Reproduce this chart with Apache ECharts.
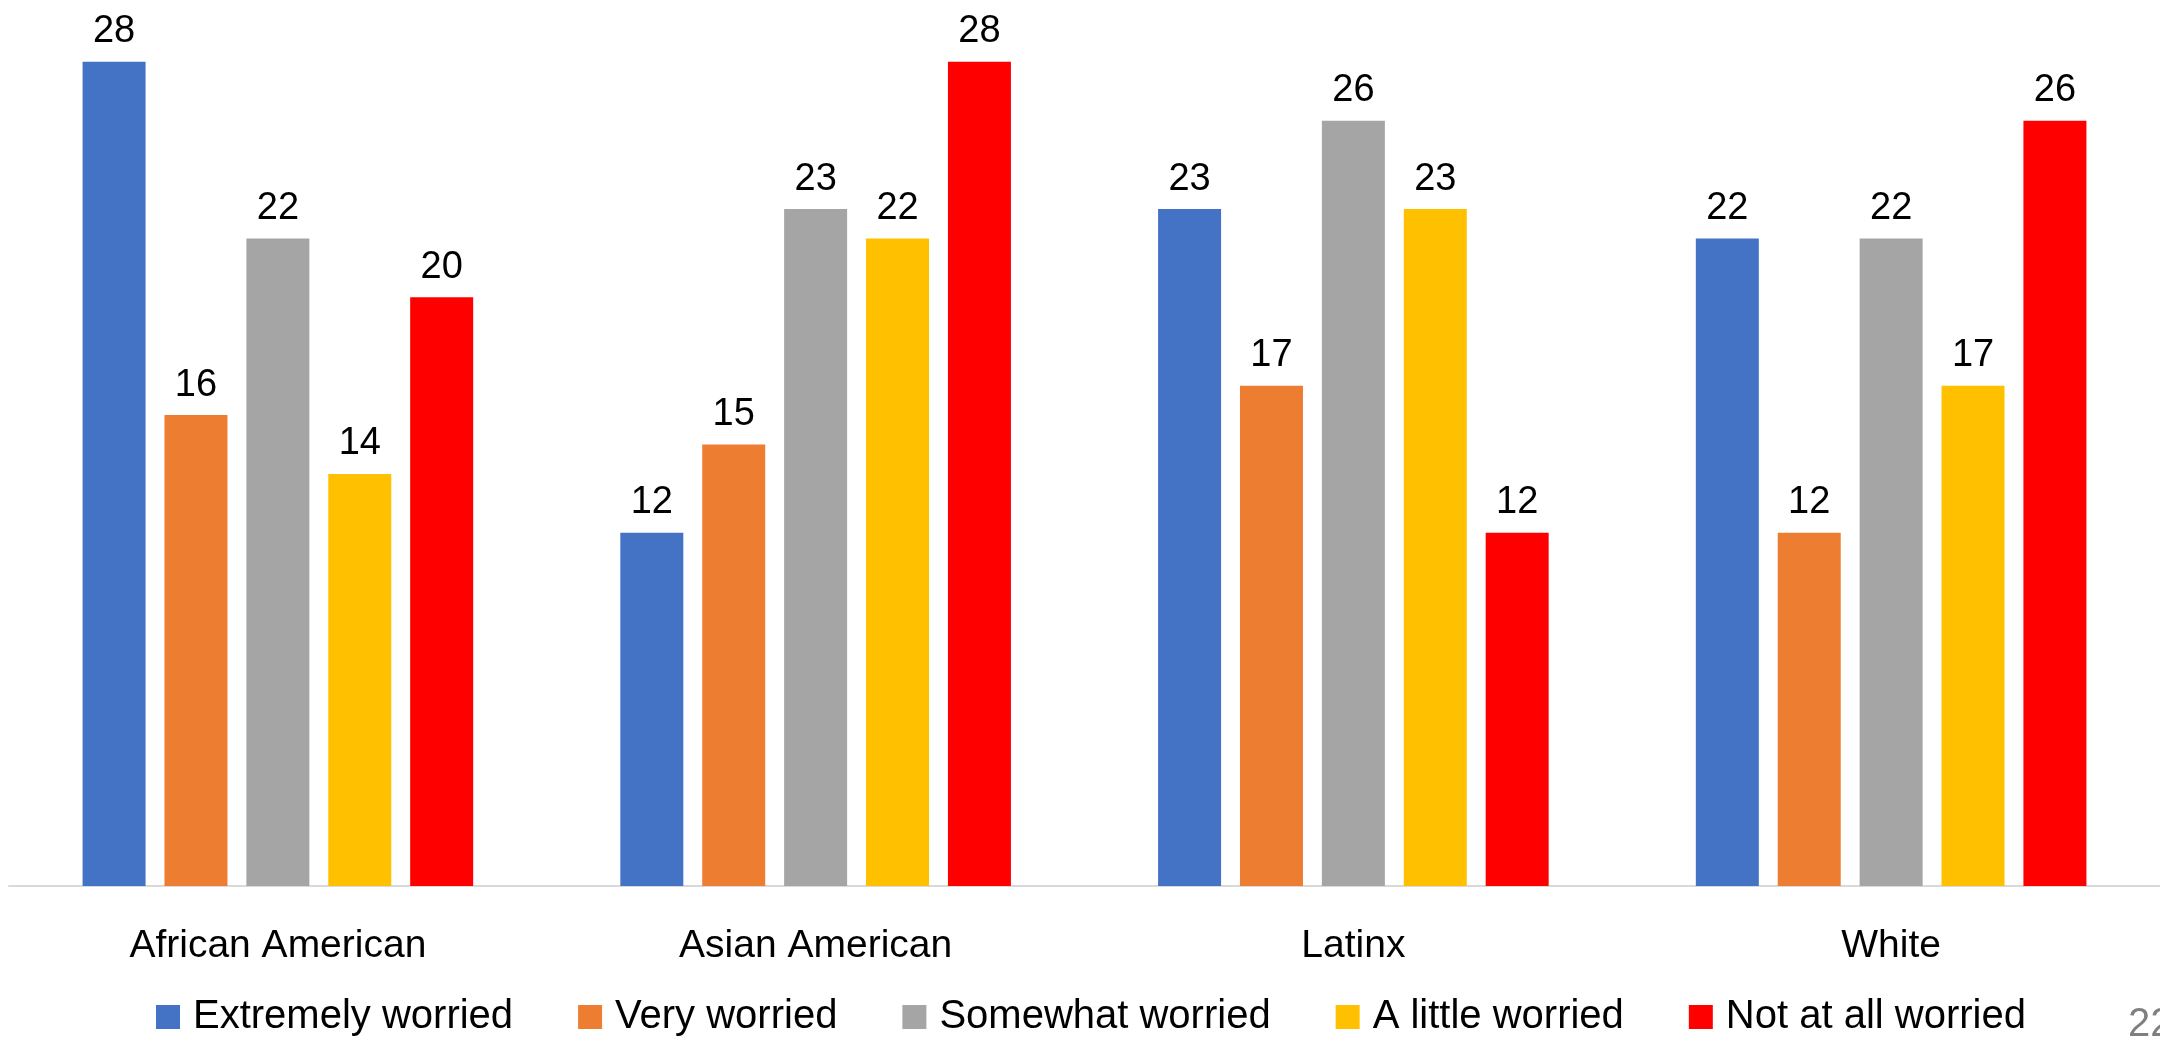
<!DOCTYPE html>
<html>
<head>
<meta charset="utf-8">
<script src="https://cdn.jsdelivr.net/npm/echarts@6/dist/echarts.min.js"></script>
<style>
html,body{margin:0;padding:0;background:#fff;}
#chart{width:2160px;height:1038px;}
</style>
</head>
<body>
<div id="chart"></div>
<script>
const categories = ['African American', 'Asian American', 'Latinx', 'White'];
const seriesNames = ['Extremely worried', 'Very worried', 'Somewhat worried', 'A little worried', 'Not at all worried'];
const extremelyWorried = [28, 12, 23, 22];
const veryWorried = [16, 15, 17, 12];
const somewhatWorried = [22, 23, 26, 22];
const aLittleWorried = [14, 22, 23, 17];
const notAtAllWorried = [20, 28, 12, 26];
const seriesValues = [extremelyWorried, veryWorried, somewhatWorried, aLittleWorried, notAtAllWorried];
const colors = ['#4472C4', '#ED7D31', '#A5A5A5', '#FFC000', '#FF0000'];
const pageNumber = '22';

const FONT = '"Liberation Sans", Arial, sans-serif';
const chart = echarts.init(document.getElementById('chart'), null, {renderer: 'canvas'});
chart.setOption({
  animation: false,
  color: colors,
  grid: {left: 9, right: 0, top: 3, bottom: 152, containLabel: false},
  xAxis: {
    type: 'category',
    data: categories,
    axisLine: {lineStyle: {color: '#D9D9D9', width: 2}},
    axisTick: {show: false},
    axisLabel: {color: '#000', fontSize: 39, fontFamily: FONT, margin: 41}
  },
  yAxis: {
    type: 'value', min: 0, max: 30, interval: 5,
    show: false, splitLine: {show: false}
  },
  legend: {
    data: seriesNames,
    left: 156, top: 997, padding: 0,
    itemWidth: 24, itemHeight: 24, itemGap: 65,
    icon: 'rect',
    textStyle: {color: '#000', fontSize: 40, fontFamily: FONT, padding: [0, 0, 0, 8]}
  },
  series: seriesNames.map((name, i) => ({
    name: name,
    type: 'bar',
    data: seriesValues[i],
    barWidth: 63,
    barGap: '30%',
    label: {show: true, position: 'top', distance: 11, color: '#000', fontSize: 38, fontFamily: FONT}
  })),
  graphic: [{
    type: 'text', left: 2128, top: 1005,
    style: {text: pageNumber, fill: '#7F7F7F', font: '40px ' + FONT}
  }]
});
</script>
</body>
</html>
